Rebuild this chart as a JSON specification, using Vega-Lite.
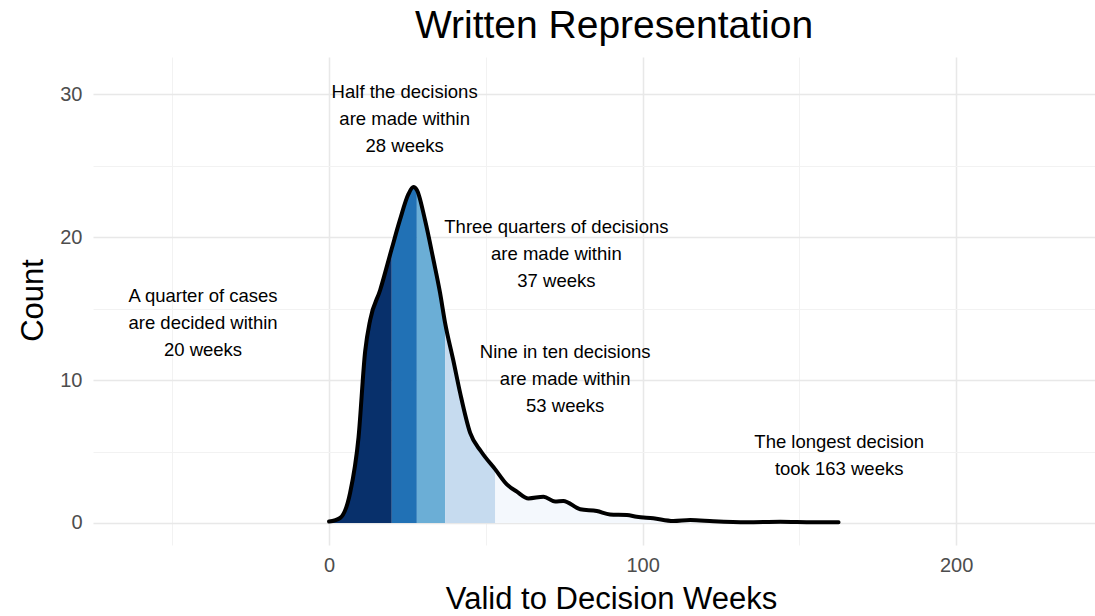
{
  "$schema": "https://vega.github.io/schema/vega-lite/v6.json",
  "width": 1002,
  "height": 488,
  "autosize": {"type": "none"},
  "padding": {"left": 93, "top": 57, "right": 0, "bottom": 71},
  "background": "white",
  "title": {
    "text": "Written Representation",
    "font": "Liberation Sans",
    "fontSize": 39,
    "fontWeight": "normal",
    "color": "#000000",
    "anchor": "middle",
    "baseline": "alphabetic",
    "offset": 20,
    "dx": 20,
    "dy": 40
  },
  "config": {
    "view": {"stroke": null},
    "axis": {
      "domain": false,
      "ticks": false,
      "labelFont": "Liberation Sans",
      "labelFontSize": 20,
      "labelColor": "#4d4d4d",
      "titleFont": "Liberation Sans",
      "titleFontSize": 31,
      "titleFontWeight": "normal",
      "titleColor": "#000000"
    }
  },
  "datasets": {
    "outline": [
      {"w": 0, "n": 0.1}, {"w": 3.5, "n": 0.35}, {"w": 6.7, "n": 2.1}, {"w": 9.4, "n": 6.0},
      {"w": 11.5, "n": 12.0}, {"w": 13.1, "n": 14.2}, {"w": 16.3, "n": 16.3}, {"w": 20, "n": 19.2},
      {"w": 22.6, "n": 21.2}, {"w": 25.3, "n": 23.0}, {"w": 26.9, "n": 23.5}, {"w": 28, "n": 23.3},
      {"w": 30.6, "n": 21.2}, {"w": 33.3, "n": 18.4}, {"w": 35.4, "n": 16.1}, {"w": 37, "n": 14.0},
      {"w": 39.6, "n": 11.4}, {"w": 41.8, "n": 9.1}, {"w": 45, "n": 6.3}, {"w": 48.5, "n": 5.0},
      {"w": 53, "n": 3.75}, {"w": 56.7, "n": 2.7}, {"w": 59.9, "n": 2.19}, {"w": 63.6, "n": 1.72},
      {"w": 68.4, "n": 1.84}, {"w": 72.1, "n": 1.5}, {"w": 74.7, "n": 1.54}, {"w": 80.1, "n": 0.96},
      {"w": 85.4, "n": 0.84}, {"w": 89.6, "n": 0.6}, {"w": 95, "n": 0.56}, {"w": 98.1, "n": 0.44},
      {"w": 103.4, "n": 0.33}, {"w": 109.8, "n": 0.14}, {"w": 115.2, "n": 0.21}, {"w": 122.6, "n": 0.12},
      {"w": 133.2, "n": 0.05}, {"w": 143.9, "n": 0.09}, {"w": 154.5, "n": 0.05}, {"w": 162.5, "n": 0.05}
    ],
    "bands": [
      {"w": 0, "n": 0.1, "band": "q1"}, {"w": 3.5, "n": 0.35, "band": "q1"}, {"w": 6.7, "n": 2.1, "band": "q1"},
      {"w": 9.4, "n": 6.0, "band": "q1"}, {"w": 11.5, "n": 12.0, "band": "q1"}, {"w": 13.1, "n": 14.2, "band": "q1"},
      {"w": 16.3, "n": 16.3, "band": "q1"}, {"w": 20, "n": 19.2, "band": "q1"},
      {"w": 20, "n": 19.2, "band": "q2"}, {"w": 22.6, "n": 21.2, "band": "q2"}, {"w": 25.3, "n": 23.0, "band": "q2"},
      {"w": 26.9, "n": 23.5, "band": "q2"}, {"w": 28, "n": 23.3, "band": "q2"},
      {"w": 28, "n": 23.3, "band": "q3"}, {"w": 30.6, "n": 21.2, "band": "q3"}, {"w": 33.3, "n": 18.4, "band": "q3"},
      {"w": 35.4, "n": 16.1, "band": "q3"}, {"w": 37, "n": 14.0, "band": "q3"},
      {"w": 37, "n": 14.0, "band": "q4"}, {"w": 39.6, "n": 11.4, "band": "q4"}, {"w": 41.8, "n": 9.1, "band": "q4"},
      {"w": 45, "n": 6.3, "band": "q4"}, {"w": 48.5, "n": 5.0, "band": "q4"}, {"w": 53, "n": 3.75, "band": "q4"},
      {"w": 53, "n": 3.75, "band": "q5"}, {"w": 56.7, "n": 2.7, "band": "q5"}, {"w": 59.9, "n": 2.19, "band": "q5"},
      {"w": 63.6, "n": 1.72, "band": "q5"}, {"w": 68.4, "n": 1.84, "band": "q5"}, {"w": 72.1, "n": 1.5, "band": "q5"},
      {"w": 74.7, "n": 1.54, "band": "q5"}, {"w": 80.1, "n": 0.96, "band": "q5"}, {"w": 85.4, "n": 0.84, "band": "q5"},
      {"w": 89.6, "n": 0.6, "band": "q5"}, {"w": 95, "n": 0.56, "band": "q5"}, {"w": 98.1, "n": 0.44, "band": "q5"},
      {"w": 103.4, "n": 0.33, "band": "q5"}, {"w": 109.8, "n": 0.14, "band": "q5"}, {"w": 115.2, "n": 0.21, "band": "q5"},
      {"w": 122.6, "n": 0.12, "band": "q5"}, {"w": 133.2, "n": 0.05, "band": "q5"}, {"w": 143.9, "n": 0.09, "band": "q5"},
      {"w": 154.5, "n": 0.05, "band": "q5"}, {"w": 162.5, "n": 0.05, "band": "q5"}
    ],
    "notes": [
      {"w": -40.2, "n": 15.87, "label": "A quarter of cases\nare decided within\n20 weeks"},
      {"w": 24.1, "n": 30.14, "label": "Half the decisions\nare made within\n28 weeks"},
      {"w": 72.5, "n": 20.7, "label": "Three quarters of decisions\nare made within\n37 weeks"},
      {"w": 75.3, "n": 11.96, "label": "Nine in ten decisions\nare made within\n53 weeks"},
      {"w": 162.7, "n": 5.66, "label": "The longest decision\ntook 163 weeks"}
    ]
  },
  "encoding": {
    "x": {
      "field": "w",
      "type": "quantitative",
      "scale": {"domain": [-75.3, 244.3], "nice": false, "zero": false},
      "axis": {
        "title": "Valid to Decision Weeks",
        "values": [-50, 0, 50, 100, 150, 200],
        "labelExpr": "datum.value % 100 === 0 ? datum.label : ''",
        "labelPadding": 10,
        "gridColor": {"condition": {"test": "datum.value % 100 === 0", "value": "#e8e8e8"}, "value": "#f2f2f2"},
        "gridWidth": {"condition": {"test": "datum.value % 100 === 0", "value": 1.5}, "value": 1},
        "titleX": 518,
        "titleY": 63,
        "titleBaseline": "alphabetic"
      }
    },
    "y": {
      "field": "n",
      "type": "quantitative",
      "stack": null,
      "scale": {"domain": [-1.54, 32.6], "nice": false, "zero": false},
      "axis": {
        "title": "Count",
        "values": [0, 5, 10, 15, 20, 25, 30],
        "labelExpr": "datum.value % 10 === 0 ? datum.label : ''",
        "labelPadding": 11,
        "gridColor": {"condition": {"test": "datum.value % 10 === 0", "value": "#e8e8e8"}, "value": "#f2f2f2"},
        "gridWidth": {"condition": {"test": "datum.value % 10 === 0", "value": 1.5}, "value": 1},
        "titleX": -60,
        "titleY": 243,
        "titleBaseline": "middle"
      }
    }
  },
  "layer": [
    {
      "data": {"name": "bands"},
      "mark": {"type": "area", "interpolate": "monotone"},
      "encoding": {
        "color": {
          "field": "band",
          "type": "nominal",
          "scale": {"domain": ["q1", "q2", "q3", "q4", "q5"], "range": ["#08306b", "#2171b5", "#6baed6", "#c6dbef", "#f4f8fd"]},
          "legend": null
        }
      }
    },
    {
      "data": {"name": "outline"},
      "mark": {"type": "line", "interpolate": "monotone", "color": "#000000", "strokeWidth": 4, "strokeCap": "round", "strokeJoin": "round"},
      "encoding": {}
    },
    {
      "data": {"name": "notes"},
      "mark": {"type": "text", "font": "Liberation Sans", "fontSize": 18.5, "color": "#000000", "align": "center", "baseline": "middle", "lineBreak": "\n", "lineHeight": 27},
      "encoding": {"text": {"field": "label", "type": "nominal"}}
    }
  ]
}
